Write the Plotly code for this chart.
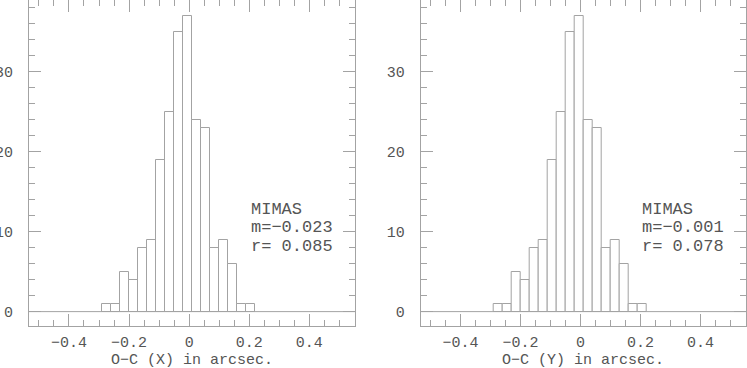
import plotly.graph_objects as go
from plotly.subplots import make_subplots

# Data
bin_start = -0.29
bin_width = 0.03
counts_x = [1, 1, 5, 4, 8, 9, 19, 25, 35, 37, 24, 23, 8, 9, 6, 1, 1]
counts_y = [1, 1, 5, 4, 8, 9, 19, 25, 35, 37, 24, 23, 8, 9, 6, 1, 1]
labels_x = ["MIMAS", "m=\u22120.023", "r= 0.085"]
labels_y = ["MIMAS", "m=\u22120.001", "r= 0.078"]
titles = ["O\u2212C (X) in arcsec.", "O\u2212C (Y) in arcsec."]

LINE = "#a3a3a3"
TEXT = "#555555"

centers = [bin_start + bin_width * (i + 0.5) for i in range(len(counts_x))]

fig = make_subplots(rows=1, cols=2, horizontal_spacing=0.0)

for col, counts in [(1, counts_x), (2, counts_y)]:
    fig.add_trace(go.Bar(x=centers, y=counts, width=bin_width,
                         marker=dict(color="white", line=dict(color=LINE, width=1)),
                         showlegend=False, hoverinfo="skip"), row=1, col=col)

axis_common = dict(showline=True, linecolor=LINE, linewidth=1, mirror="allticks",
                   ticks="inside", tickcolor=LINE, ticklen=12, tickwidth=1,
                   showgrid=False, zeroline=False, automargin=False,
                   tickfont=dict(family="Liberation Mono", size=15, color=TEXT))

xr = [-0.533, 0.552]
yr = [-1.8, 39.0]
fig.update_xaxes(range=xr, tick0=0, dtick=0.2, ticklabelstandoff=2,
                 minor=dict(dtick=0.05, ticks="inside", ticklen=6, tickcolor=LINE, tickwidth=1, showgrid=False),
                 **axis_common)
fig.update_yaxes(range=yr, tick0=0, dtick=10, ticklabelstandoff=12,
                 minor=dict(dtick=2, ticks="inside", ticklen=6, tickcolor=LINE, tickwidth=1, showgrid=False),
                 **axis_common)

fig.update_layout(xaxis=dict(domain=[0, 0.4547]), xaxis2=dict(domain=[0.5463, 1]))

for i, (xa, ya) in enumerate([("x", "y"), ("x2", "y2")]):
    fig.add_shape(type="line", xref=xa + " domain", yref=ya, x0=0, x1=1, y0=0, y1=0,
                  line=dict(color=LINE, width=1))
    fig.add_annotation(x=0.5, y=-0.106, xref=xa + " domain", yref="paper", text=titles[i],
                       showarrow=False, xanchor="center", yanchor="middle",
                       font=dict(family="Liberation Mono", size=15, color=TEXT))
    labs = labels_x if i == 0 else labels_y
    for j, t in enumerate(labs):
        fig.add_annotation(x=0.199, y=12.8 - 2.3 * j, xref=xa, yref=ya, text=t, showarrow=False,
                           xanchor="left", yanchor="middle",
                           font=dict(family="Liberation Mono", size=17, color=TEXT))

fig.update_layout(width=747, height=368, margin=dict(l=29, r=1, t=0, b=42, autoexpand=False),
                  paper_bgcolor="white", plot_bgcolor="white", bargap=0, hovermode=False)

fig.write_html("out.html", config={"displayModeBar": False},
               post_script="document.body.style.margin='0';document.body.style.padding='0';")
